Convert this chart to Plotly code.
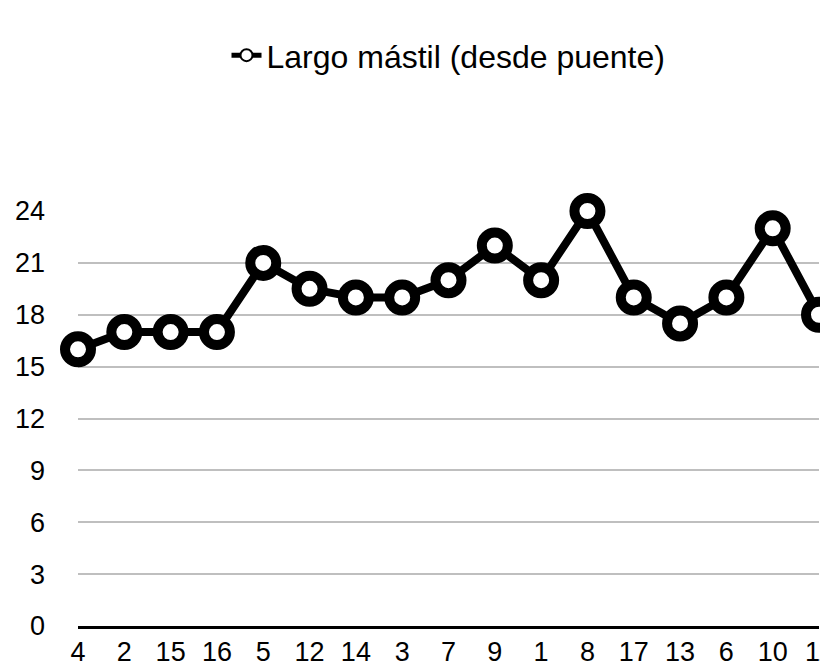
import plotly.graph_objects as go

categories = ["4", "2", "15", "16", "5", "12", "14", "3", "7", "9", "1", "8", "17", "13", "6", "10", "11"]
values = [16, 17, 17, 17, 21, 19.5, 19, 19, 20, 22, 20, 24, 19, 17.5, 19, 23, 18]
y_ticks = [0, 3, 6, 9, 12, 15, 18, 21, 24]
series_name = "Largo mástil (desde puente)"

fig = go.Figure()
fig.add_trace(go.Scatter(
    x=categories, y=values, name=series_name, mode="lines+markers",
    line=dict(color="black", width=8),
    marker=dict(symbol="circle", size=26, color="white", line=dict(color="black", width=10)),
    cliponaxis=False,
))

# page body has an 8px margin, so the figure is 8px smaller and margins shifted
fig.update_layout(
    width=820, height=658,
    margin=dict(l=70, r=9, t=203, b=40, autoexpand=False),
    paper_bgcolor="white", plot_bgcolor="white",
    font=dict(family="Liberation Sans, Arial, sans-serif", color="black", size=27),
    showlegend=True,
    legend=dict(orientation="h", x=0.5, xanchor="center", y=1.375, yanchor="middle",
                font=dict(size=32), itemsizing="constant"),
    xaxis=dict(type="category", range=[0, 16], showgrid=False, showline=True,
               linecolor="black", linewidth=3, ticks="", tickfont=dict(size=27),
               fixedrange=True),
    yaxis=dict(range=[0, 24], tickvals=y_ticks, showgrid=True, gridcolor="#bfbfbf",
               gridwidth=2, showline=False, zeroline=False, ticks="",
               ticklabelstandoff=32, tickfont=dict(size=27)),
)
fig.write_html("out.html")
